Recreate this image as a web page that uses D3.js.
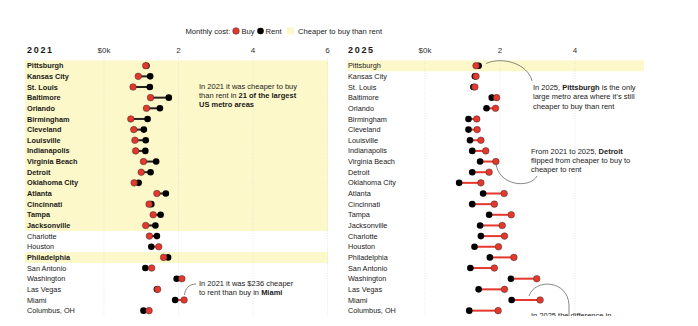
<!DOCTYPE html>
<html><head><meta charset="utf-8">
<script src="https://cdn.jsdelivr.net/npm/d3@7"></script>
<style>
body{margin:0;background:#fff;}
svg{display:block;font-family:"Liberation Sans",Arial,Helvetica,sans-serif;}
</style></head><body>
<svg id="c" width="698" height="326"></svg>
<script>
const cities = ["Pittsburgh","Kansas City","St. Louis","Baltimore","Orlando","Birmingham","Cleveland","Louisville","Indianapolis","Virginia Beach","Detroit","Oklahoma City","Atlanta","Cincinnati","Tampa","Jacksonville","Charlotte","Houston","Philadelphia","San Antonio","Washington","Las Vegas","Miami","Columbus, OH"];
const buy2021  = [1.12,0.92,0.78,1.25,1.14,0.72,0.80,0.83,0.85,1.06,1.00,0.81,1.42,1.21,1.32,1.12,1.22,1.47,1.60,1.28,2.09,1.44,2.15,1.21];
const rent2021 = [1.14,1.24,1.23,1.74,1.50,1.17,1.07,1.12,1.11,1.40,1.25,0.93,1.66,1.27,1.52,1.38,1.42,1.27,1.72,1.11,1.95,1.42,1.91,1.06];
const buy2025  = [1.36,1.36,1.33,1.91,1.88,1.38,1.39,1.49,1.62,1.89,1.71,1.49,2.11,1.85,2.30,2.06,2.12,1.96,2.37,1.85,2.98,2.12,3.07,1.95];
const rent2025 = [1.43,1.33,1.29,1.78,1.64,1.16,1.16,1.20,1.26,1.47,1.26,0.91,1.55,1.26,1.71,1.47,1.49,1.32,1.73,1.21,2.29,1.43,2.31,1.18];
const cheaper2021 = ["Pittsburgh","Kansas City","St. Louis","Baltimore","Orlando","Birmingham","Cleveland","Louisville","Indianapolis","Virginia Beach","Detroit","Oklahoma City","Atlanta","Cincinnati","Tampa","Jacksonville","Philadelphia"];
const cheaper2025 = ["Pittsburgh"];
const ticks2021 = [0,2,4,6];
const ticks2025 = [0,2,4];
const tickLabel = v => v === 0 ? "$0k" : String(v);

const RED = "#e5372c", YELLOW = "#fdf8c9", INK = "#1a1a1a";
const svg = d3.select("#c");
svg.append("defs").append("clipPath").attr("id","clip")
  .append("rect").attr("x",0).attr("y",0).attr("width",698).attr("height",316);
const root = svg.append("g").attr("clip-path","url(#clip)");

const y = d3.scalePoint().domain(cities).range([65.7, 65.7 + 23*10.65]);
const rowH = 10.65;

// legend
const lg = root.append("g").attr("font-size",7.6).attr("fill",INK);
lg.append("text").attr("x",185.5).attr("y",31).attr("dy","0.35em").text("Monthly cost:");
lg.append("circle").attr("cx",236).attr("cy",31).attr("r",3.3).attr("fill",RED).attr("stroke","#333").attr("stroke-width",0.5);
lg.append("text").attr("x",241.5).attr("y",31).attr("dy","0.35em").text("Buy");
lg.append("circle").attr("cx",260.5).attr("cy",31).attr("r",3.3).attr("fill","#000");
lg.append("text").attr("x",265.5).attr("y",31).attr("dy","0.35em").text("Rent");
lg.append("rect").attr("x",287).attr("y",27.5).attr("width",7).attr("height",7).attr("fill",YELLOW);
lg.append("text").attr("x",298).attr("y",31).attr("dy","0.35em").text("Cheaper to buy than rent");

function panel(o){
  const g = root.append("g");
  const x = d3.scaleLinear().domain([0,6]).range(o.range);
  g.selectAll("rect.band").data(o.cheaper).join("rect").attr("class","band")
    .attr("x",o.band[0]).attr("width",o.band[1]-o.band[0])
    .attr("y",d=>y(d)-rowH/2).attr("height",rowH+0.3).attr("fill",YELLOW);
  g.append("text").attr("x",o.labelX).attr("y",50).attr("dy","0.35em")
    .attr("font-size",9).attr("font-weight","bold").attr("letter-spacing","1.7px").attr("fill",INK).text(o.title);
  g.selectAll("line.grid").data(o.ticks).join("line").attr("class","grid")
    .attr("x1",d=>x(d)).attr("x2",d=>x(d)).attr("y1",58).attr("y2",316)
    .attr("stroke","#d8d8d8").attr("stroke-width",0.6).attr("stroke-dasharray","1,1.5");
  g.selectAll("text.tick").data(o.ticks).join("text").attr("class","tick")
    .attr("x",d=>x(d)).attr("y",50).attr("dy","0.35em").attr("text-anchor","middle")
    .attr("font-size",8).attr("fill","#333").text(tickLabel);
  g.selectAll("text.lab").data(cities).join("text").attr("class","lab")
    .attr("x",o.labelX).attr("y",d=>y(d)).attr("dy","0.35em")
    .attr("font-size",7.3).attr("fill",INK)
    .attr("font-weight",d=>o.bold && o.cheaper.includes(d) ? "bold" : "normal")
    .text(d=>d);
  const rows = cities.map((c,i)=>({c, b:o.buy[i], r:o.rent[i]}));
  g.selectAll("line.seg").data(rows).join("line").attr("class","seg")
    .attr("x1",d=>x(d.b)).attr("x2",d=>x(d.r)).attr("y1",d=>y(d.c)).attr("y2",d=>y(d.c))
    .attr("stroke",d=>d.b>d.r ? RED : "#222").attr("stroke-width",2);
  g.selectAll("circle.rent").data(rows).join("circle").attr("class","rent")
    .attr("cx",d=>x(d.r)).attr("cy",d=>y(d.c)).attr("r",3.3).attr("fill","#000");
  g.selectAll("circle.buy").data(rows).join("circle").attr("class","buy")
    .attr("cx",d=>x(d.b)).attr("cy",d=>y(d.c)).attr("r",3.3).attr("fill",RED)
    .attr("stroke","#333").attr("stroke-width",0.5);
  return x;
}

panel({title:"2021", labelX:27, range:[104,327.5], band:[25,328], ticks:ticks2021,
  cheaper:cheaper2021, buy:buy2021, rent:rent2021, bold:true});
panel({title:"2025", labelX:348, range:[425,650], band:[347,644], ticks:ticks2025,
  cheaper:cheaper2025, buy:buy2025, rent:rent2025, bold:false});

function note(x0, y0, lines){
  const t = root.append("text").attr("font-size",7.5).attr("fill",INK);
  lines.forEach((parts,i)=>{
    parts.forEach((p,j)=>{
      const ts = t.append("tspan").text(p[0]).attr("font-weight",p[1]?"bold":"normal");
      if(j===0) ts.attr("x",x0).attr("y",y0+i*9.2).attr("dy","0.35em");
    });
  });
}
const arc = d => root.append("path").attr("d",d).attr("fill","none").attr("stroke","#555").attr("stroke-width",0.7);

note(199, 86, [[["In 2021 it was cheaper to buy"]],[["than rent in "],["21 of the largest",1]],[["US metro areas",1]]]);
note(199, 283.5, [[["In 2021 it was $236 cheaper"]],[["to rent than buy in "],["Miami",1]]]);
arc("M196,284 C189,284 185,289 184.5,295");

note(533, 87.5, [[["In 2025, "],["Pittsburgh",1],[" is the only"]],[["large metro area where it’s still"]],[["cheaper to buy than rent"]]]);
arc("M486,63.5 C503,56 528,64 532,81");

note(531, 151, [[["From 2021 to 2025, "],["Detroit",1]],[["flipped from cheaper to buy to"]],[["cheaper to rent"]]]);
arc("M496,163 C498,186 530,189 537,176");

note(531, 315, [[["In 2025 the difference in"]]]);
arc("M529,296 C535,278 568,280 569,305 L569,316");
</script>
</body></html>
